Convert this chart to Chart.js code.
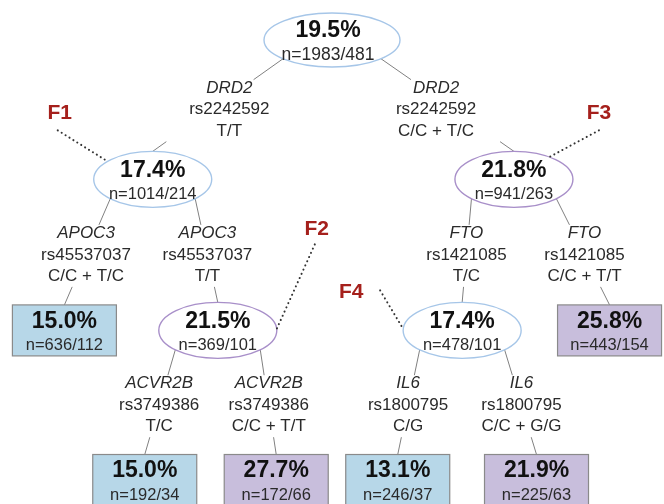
<!DOCTYPE html>
<html>
<head>
<meta charset="utf-8">
<script src="https://cdn.jsdelivr.net/npm/chart.js@4.4.1/dist/chart.umd.min.js"></script>
<style>
  html, body { margin: 0; padding: 0; background: #fff; }
  #wrap { width: 664px; height: 504px; position: relative; }
</style>
</head>
<body>
<div id="wrap"><canvas id="tree"></canvas></div>
<script>
/* =========================================================
   Decision tree — prevalence by genotype split
   ========================================================= */

// --- data ---
const nodeRate   = [19.5, 17.4, 21.8, 15.0, 21.5, 17.4, 25.8, 15.0, 27.7, 13.1, 21.9];
const nodeCounts = ['n=1983/481', 'n=1014/214', 'n=941/263', 'n=636/112', 'n=369/101',
                    'n=478/101', 'n=443/154', 'n=192/34', 'n=172/66', 'n=246/37', 'n=225/63'];
const nodeParent = [-1, 0, 0, 1, 1, 2, 2, 4, 4, 5, 5];
// layout position of each node: horizontal slot (0-100) and tree depth
const nodeSlot   = [50, 23, 77.4, 9.7, 32.8, 69.6, 91.8, 21.8, 41.6, 59.9, 80.8];
const nodeDepth  = [0, 0.95, 0.95, 1.98, 1.98, 1.98, 1.98, 3, 3, 3, 3];

// split rule shown on the edge leading into each node
const splitGene = ['', 'DRD2', 'DRD2', 'APOC3', 'APOC3', 'FTO', 'FTO', 'ACVR2B', 'ACVR2B', 'IL6', 'IL6'];
const splitSnp  = ['', 'rs2242592', 'rs2242592', 'rs45537037', 'rs45537037', 'rs1421085', 'rs1421085',
                   'rs3749386', 'rs3749386', 'rs1800795', 'rs1800795'];
const splitGeno = ['', 'T/T', 'C/C + T/C', 'C/C + T/C', 'T/T', 'T/C', 'C/C + T/T',
                   'T/C', 'C/C + T/T', 'C/G', 'C/C + G/G'];

// factor callouts
const factorName = ['F1', 'F2', 'F3', 'F4'];
const factorNode = [1, 4, 2, 5];

// --- layout / style (pixels) ---
const calloutLayout = [
  { dx: -93, dy: -66, sx: -2, sy: 17, angle: -140 },
  { dx: 99,  dy: -101, sx: -2, sy: 15, angle: -3 },
  { dx: 85,  dy: -66, sx: 0,  sy: 17, angle: -53 },
  { dx: -111, dy: -38, sx: 29, sy: -2, angle: 183 }
];
const BLUE_EDGE = '#a6c6e8', PURPLE_EDGE = '#a88fc9';
const BLUE_FILL = '#b7d7e8', PURPLE_FILL = '#c8bedc';
const FONT = '"Liberation Sans", Arial, sans-serif';

const overall = nodeRate[0];
const isLeaf = i => !nodeParent.includes(i);
const rxOf = i => (i === 0 ? 68 : 59);
const ryOf = i => (i === 0 ? 27 : 28);

const treePlugin = {
  id: 'treeDiagram',
  afterDatasetsDraw(chart) {
    const ctx = chart.ctx;
    const sx = chart.scales.x, sy = chart.scales.y;
    const px = i => sx.getPixelForValue(nodeSlot[i]);
    const py = i => sy.getPixelForValue(nodeDepth[i]);

    ctx.save();

    // edges + split labels
    nodeParent.forEach((p, i) => {
      if (p < 0) return;
      const side = px(i) < px(p) ? -1 : 1;
      const ax = px(p) + side * 0.72 * rxOf(p);
      const ay = py(p) + 0.694 * ryOf(p);
      const bx = px(i);
      const by = isLeaf(i) ? py(i) - 25.5 : py(i) - ryOf(i);
      const midY = (py(p) + py(i)) / 2;
      const xAt = y => ax + (bx - ax) * (y - ay) / (by - ay);
      const gapTop = midY - 30, gapBot = midY + 32;

      ctx.strokeStyle = '#808080';
      ctx.lineWidth = 1;
      ctx.beginPath();
      ctx.moveTo(ax, ay); ctx.lineTo(xAt(gapTop), gapTop);
      ctx.moveTo(xAt(gapBot), gapBot); ctx.lineTo(bx, by);
      ctx.stroke();

      // first-level labels sit a little closer to the root
      const lx = xAt(midY) - (p === 0 ? side * 18 : 0);
      ctx.fillStyle = '#2a2a2a';
      ctx.textAlign = 'center';
      ctx.textBaseline = 'middle';
      ctx.font = 'italic 17px ' + FONT;
      ctx.fillText(splitGene[i], lx, midY - 21.5);
      ctx.font = '17px ' + FONT;
      ctx.fillText(splitSnp[i], lx, midY);
      ctx.fillText(splitGeno[i], lx, midY + 21.5);
    });

    // nodes
    nodeRate.forEach((r, i) => {
      const x = px(i), y = py(i);
      const high = r > overall;
      if (isLeaf(i)) {
        const w = 104, h = 51;
        ctx.fillStyle = high ? PURPLE_FILL : BLUE_FILL;
        ctx.fillRect(x - w / 2, y - h / 2, w, h);
        ctx.strokeStyle = '#8a8a8a';
        ctx.lineWidth = 1.2;
        ctx.strokeRect(x - w / 2, y - h / 2, w, h);
      } else {
        ctx.beginPath();
        ctx.ellipse(x, y, rxOf(i), ryOf(i), 0, 0, Math.PI * 2);
        ctx.fillStyle = '#fff';
        ctx.fill();
        ctx.strokeStyle = high ? PURPLE_EDGE : BLUE_EDGE;
        ctx.lineWidth = 1.4;
        ctx.stroke();
      }
      const tx = x - (i === 0 ? 4 : 0);
      ctx.textAlign = 'center';
      ctx.textBaseline = 'middle';
      ctx.fillStyle = '#111';
      ctx.font = 'bold 23px ' + FONT;
      ctx.fillText(r.toFixed(1) + '%', tx, y - 9);
      ctx.fillStyle = '#2a2a2a';
      ctx.font = (i === 0 ? '17.5px ' : '16.5px ') + FONT;
      ctx.fillText(nodeCounts[i], tx, y + 15);
    });

    // factor callouts
    factorName.forEach((f, k) => {
      const n = factorNode[k], L = calloutLayout[k];
      const tx = px(n) + L.dx, ty = py(n) + L.dy;
      const a = L.angle * Math.PI / 180;
      const ex = px(n) + rxOf(n) * Math.cos(a), ey = py(n) + ryOf(n) * Math.sin(a);
      const x0 = tx + L.sx, y0 = ty + L.sy;
      ctx.strokeStyle = '#333';
      ctx.lineWidth = 2;
      ctx.lineCap = 'round';
      ctx.setLineDash([0.1, 4.5]);
      ctx.beginPath();
      ctx.moveTo(x0, y0); ctx.lineTo(ex, ey);
      ctx.stroke();
      ctx.setLineDash([]);
      ctx.lineCap = 'butt';
      ctx.fillStyle = '#a5201c';
      ctx.font = 'bold 21px ' + FONT;
      ctx.textAlign = 'center';
      ctx.textBaseline = 'middle';
      ctx.fillText(f, tx, ty);
    });

    ctx.restore();
  }
};

new Chart(document.getElementById('tree'), {
  type: 'scatter',
  data: {
    datasets: [{
      data: nodeSlot.map((s, i) => ({ x: s, y: nodeDepth[i] })),
      pointRadius: 0
    }]
  },
  options: {
    responsive: true, maintainAspectRatio: false,
    animation: false,
    layout: { padding: 0 },
    plugins: { legend: { display: false }, tooltip: { enabled: false } },
    scales: {
      x: { type: 'linear', min: 0, max: 100, display: false },
      y: { type: 'linear', min: -0.2727, max: 3.1636, reverse: true, display: false }
    }
  },
  plugins: [treePlugin]
});
</script>
</body>
</html>
